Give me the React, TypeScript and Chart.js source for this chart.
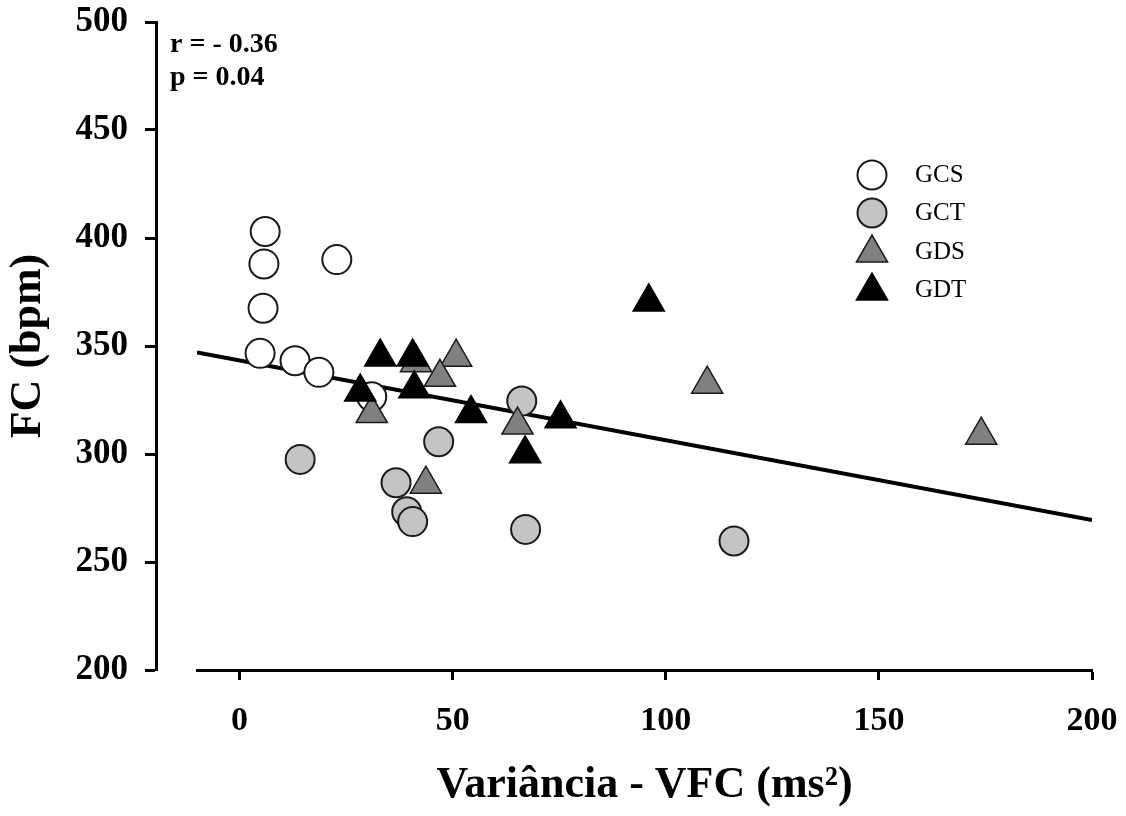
import React, { useEffect, useRef } from 'react';
import { Chart, registerables } from 'chart.js';
import { drawPoint } from 'chart.js/helpers';

Chart.register(...registerables);

// ---- data ----
const gcsX = [6, 5.7, 22.8, 5.5, 4.8, 13, 18.6, 31];
const gcsY = [403, 388, 390, 367.5, 346.6, 343.2, 337.8, 326.5];
const gctX = [66.2, 46.7, 14.2, 36.7, 39.2, 40.6, 67.1, 116];
const gctY = [324.5, 305.7, 297.5, 286.7, 273.3, 268.7, 265.1, 259.7];
const gdsX = [50.8, 47, 41.4, 31, 43.7, 65.2, 109.7, 174];
const gdsY = [344.8, 335.5, 342.3, 318.7, 286, 313.4, 332.3, 308.7];
const gdtX = [33, 40.6, 41, 28.3, 54.3, 75.3, 67, 96];
const gdtY = [344.9, 344.9, 330.2, 328.7, 318.7, 316.3, 300.1, 370.4];
const fitX = [-10, 200];
const fitY = [347, 269.4];
const xTicks = [0, 50, 100, 150, 200];
const yTicks = [200, 250, 300, 350, 400, 450, 500];
const seriesNames = ['GCS', 'GCT', 'GDS', 'GDT'];
const statLines = ['r = - 0.36', 'p = 0.04'];
const xTitle = 'Variância - VFC (ms²)';
const yTitle = 'FC (bpm)';

const FONT = "'Liberation Serif', 'Times New Roman', serif";

const pts = (xs: number[], ys: number[]) => xs.map((x, i) => ({ x, y: ys[i] }));

const zeroPad = (s: any) => {
  s.paddingTop = 0;
  s.paddingBottom = 0;
  s.paddingLeft = 0;
  s.paddingRight = 0;
};

const overlayPlugin = {
  id: 'overlay',
  afterDraw(chart: any) {
    const ctx = chart.ctx;
    ctx.save();
    // statistics text
    ctx.fillStyle = '#000';
    ctx.font = `bold 28px ${FONT}`;
    ctx.textAlign = 'left';
    ctx.textBaseline = 'alphabetic';
    ctx.fillText(statLines[0], 170, 52);
    ctx.fillText(statLines[1], 170, 85);

    // legend
    const rows = [175, 213, 253, 291];
    const txtRows = [175, 213, 252, 290];
    seriesNames.forEach((name, i) => {
      const ds = chart.data.datasets[i];
      ctx.fillStyle = ds.pointBackgroundColor;
      ctx.strokeStyle = ds.pointBorderColor;
      ctx.lineWidth = ds.pointBorderWidth;
      drawPoint(
        ctx,
        { pointStyle: ds.pointStyle, radius: ds.pointRadius, rotation: 0, borderWidth: ds.pointBorderWidth },
        872,
        rows[i]
      );
      ctx.fillStyle = '#000';
      ctx.font = `25px ${FONT}`;
      ctx.textAlign = 'left';
      ctx.textBaseline = 'middle';
      ctx.fillText(name, 915, txtRows[i]);
    });
    ctx.restore();
  },
};

export default function App() {
  const ref = useRef<HTMLCanvasElement>(null);
  useEffect(() => {
    if (!ref.current) return;
    const chart = new Chart(ref.current, {
      type: 'scatter',
      data: {
        datasets: [
          {
            label: seriesNames[0],
            data: pts(gcsX, gcsY),
            yAxisID: 'y',
            pointStyle: 'circle',
            pointRadius: 14.5,
            pointBackgroundColor: '#ffffff',
            pointBorderColor: '#1a1a1a',
            pointBorderWidth: 2,
            order: 4,
          },
          {
            label: seriesNames[1],
            data: pts(gctX, gctY),
            yAxisID: 'y',
            pointStyle: 'circle',
            pointRadius: 14.5,
            pointBackgroundColor: '#c4c4c4',
            pointBorderColor: '#1a1a1a',
            pointBorderWidth: 2,
            order: 3,
          },
          {
            label: seriesNames[2],
            data: pts(gdsX, gdsY),
            yAxisID: 'y',
            pointStyle: 'triangle',
            pointRadius: 18,
            pointBackgroundColor: '#808080',
            pointBorderColor: '#1a1a1a',
            pointBorderWidth: 1.5,
            order: 2,
          },
          {
            label: seriesNames[3],
            data: pts(gdtX, gdtY),
            yAxisID: 'y',
            pointStyle: 'triangle',
            pointRadius: 18,
            pointBackgroundColor: '#000000',
            pointBorderColor: '#000000',
            pointBorderWidth: 1.5,
            order: 1,
          },
          {
            label: 'fit',
            data: pts(fitX, fitY),
            yAxisID: 'y',
            showLine: true,
            pointRadius: 0,
            borderColor: '#000',
            borderWidth: 4,
            fill: false,
            order: 5,
          } as any,
        ],
      },
      options: {
        responsive: false,
        animation: false,
        events: [],
        layout: { padding: { left: 0, right: 34, top: 22, bottom: 0 } },
        plugins: {
          legend: { display: false },
          tooltip: { enabled: false },
        },
        scales: {
          x: {
            type: 'linear',
            position: 'bottom',
            min: -10,
            max: 200,
            afterBuildTicks: (s: any) => {
              s.ticks = xTicks.map((v) => ({ value: v }));
            },
            afterFit: (s: any) => {
              s.height = 146;
              zeroPad(s);
            },
            grid: {
              display: true,
              drawOnChartArea: false,
              drawTicks: true,
              tickLength: 10,
              tickWidth: 3,
              tickColor: '#000',
            },
            border: { display: true, color: '#000', width: 3 },
            ticks: {
              color: '#000',
              font: { family: FONT, size: 34, weight: 'bold' },
              padding: 21,
              maxRotation: 0,
            },
            title: {
              display: true,
              text: xTitle,
              color: '#000',
              font: { family: FONT, size: 44, weight: 'bold' },
              padding: { top: 0, bottom: 4 },
            },
          },
          // axis line + tick marks, offset to the left of the data area
          y: {
            type: 'linear',
            position: { x: -19.4 } as any,
            min: 200,
            max: 500,
            afterBuildTicks: (s: any) => {
              s.ticks = yTicks.map((v) => ({ value: v }));
            },
            afterFit: (s: any) => {
              zeroPad(s);
            },
            grid: {
              display: true,
              drawOnChartArea: false,
              drawTicks: true,
              tickLength: 10,
              tickWidth: 3,
              tickColor: '#000',
            },
            border: { display: true, color: '#000', width: 3 },
            ticks: { display: false },
          },
          // tick labels and title of the same y scale
          yLabels: {
            type: 'linear',
            axis: 'y',
            position: 'left',
            min: 200,
            max: 500,
            afterBuildTicks: (s: any) => {
              s.ticks = yTicks.map((v) => ({ value: v }));
            },
            afterFit: (s: any) => {
              s.width = 197;
              zeroPad(s);
            },
            grid: { display: false, drawTicks: false },
            border: { display: false },
            ticks: {
              color: '#000',
              font: { family: FONT, size: 35, weight: 'bold' },
              padding: 69,
            },
            title: {
              display: true,
              text: yTitle,
              color: '#000',
              font: { family: FONT, size: 44, weight: 'bold' },
              padding: { top: 2, bottom: 0 },
            },
          } as any,
        },
      },
      plugins: [overlayPlugin],
    });
    return () => chart.destroy();
  }, []);
  return (
    <div style={{ position: 'fixed', left: 0, top: 0, width: 1126, height: 816, background: '#fff' }}>
      <canvas ref={ref} width={1126} height={816} />
    </div>
  );
}
